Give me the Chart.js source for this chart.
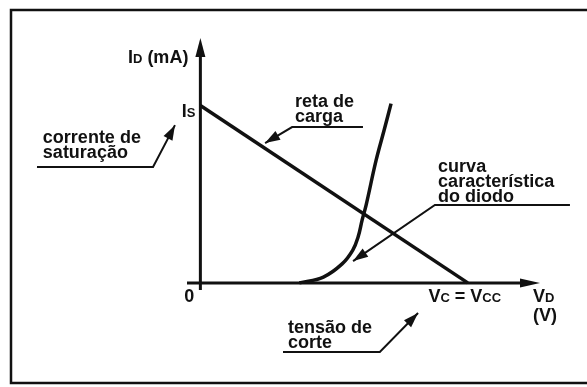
<!DOCTYPE html>
<html>
<head>
<meta charset="utf-8">
<script src="https://cdn.jsdelivr.net/npm/chart.js@4/dist/chart.umd.min.js"></script>
<style>
  html, body { margin: 0; padding: 0; background: #fff; overflow: hidden; }
  canvas { display: block; }
</style>
</head>
<body>
<canvas id="chart" width="587" height="387"></canvas>
<script>
// load line: from saturation current (V = 0) to cut-off voltage (I = 0)
const VCC = 10;
const IS = 10;
const loadLineV = [0, VCC];
const loadLineI = [IS, 0];

// diode characteristic curve
const diodeV = [3.7, 4.6, 5.3, 5.7, 5.9, 6.05, 6.2, 6.57, 6.87, 7.13];
const diodeI = [0, 0.33, 1.07, 1.85, 2.6, 3.55, 4.4, 6.9, 8.6, 10.1];

// axis ranges
const xRange = [-0.5, 12.7];
const yRange = [-0.4, 13.8];

// callouts, in data units: text lines, first baseline, leader line
const callouts = [
  { lines: ['corrente de', 'saturação'], x: -5.89, y: 7.88,
    path: [[-6.11, 6.53], [-1.77, 6.53], [-0.95, 8.89]] },
  { lines: ['reta de', 'carga'], x: 3.54, y: 9.91,
    path: [[6.08, 8.78], [3.43, 8.78], [2.42, 7.88]] },
  { lines: ['curva', 'característica', 'do diodo'], x: 8.89, y: 6.25,
    path: [[13.82, 4.39], [8.77, 4.39], [5.71, 1.23]] },
  { lines: ['tensão de', 'corte'], x: 3.28, y: -2.82,
    path: [[3.09, -3.89], [6.71, -3.89], [8.14, -1.70]] }
];

const FONT = '"Liberation Sans", Arial, sans-serif';
const INK = '#111';

function toPoints(xs, ys) {
  return xs.map((v, i) => ({ x: v, y: ys[i] }));
}

function arrowHead(ctx, x0, y0, x1, y1, len, half) {
  const a = Math.atan2(y1 - y0, x1 - x0);
  ctx.beginPath();
  ctx.moveTo(x1, y1);
  ctx.lineTo(x1 - len * Math.cos(a) + half * Math.sin(a), y1 - len * Math.sin(a) - half * Math.cos(a));
  ctx.lineTo(x1 - len * Math.cos(a) - half * Math.sin(a), y1 - len * Math.sin(a) + half * Math.cos(a));
  ctx.closePath();
  ctx.fill();
}

// text made of parts with different sizes (subscripts sit on the baseline)
function richText(ctx, parts, x, y, align) {
  let w = 0;
  parts.forEach(p => { ctx.font = 'bold ' + p[1] + 'px ' + FONT; w += ctx.measureText(p[0]).width; });
  let cx = align === 'right' ? x - w : align === 'center' ? x - w / 2 : x;
  ctx.textAlign = 'left';
  ctx.textBaseline = 'alphabetic';
  parts.forEach(p => {
    ctx.font = 'bold ' + p[1] + 'px ' + FONT;
    ctx.fillText(p[0], cx, y);
    cx += ctx.measureText(p[0]).width;
  });
}

// open frame: left, top and bottom edges only
const frame = {
  id: 'frame',
  beforeDraw(chart) {
    const { ctx, width } = chart;
    ctx.save();
    ctx.strokeStyle = INK;
    ctx.lineWidth = 2.5;
    ctx.beginPath();
    ctx.moveTo(width, 10);
    ctx.lineTo(11, 10);
    ctx.lineTo(11, 383);
    ctx.lineTo(width, 383);
    ctx.stroke();
    ctx.restore();
  }
};

const diagram = {
  id: 'diagram',
  afterDatasetsDraw(chart) {
    const { ctx, chartArea, scales } = chart;
    const px = v => scales.x.getPixelForValue(v);
    const py = v => scales.y.getPixelForValue(v);
    const x0 = px(0), y0 = py(0);

    ctx.save();
    ctx.strokeStyle = INK;
    ctx.fillStyle = INK;
    ctx.lineCap = 'butt';

    // axes with arrows
    ctx.lineWidth = 3;
    ctx.beginPath();
    ctx.moveTo(x0, chartArea.bottom);
    ctx.lineTo(x0, chartArea.top + 10);
    ctx.moveTo(chartArea.left, y0);
    ctx.lineTo(chartArea.right - 10, y0);
    ctx.stroke();
    arrowHead(ctx, x0, chartArea.bottom, x0, chartArea.top, 19, 5);
    arrowHead(ctx, chartArea.left, y0, chartArea.right, y0, 20, 4.5);

    // axis and tick labels
    richText(ctx, [['I', 18], ['D', 13], [' (mA)', 18]], x0 - 12, chartArea.top + 25, 'right');
    richText(ctx, [['I', 18], ['S', 13]], x0 - 5, py(IS) + 12, 'right');
    richText(ctx, [['0', 18]], x0 - 6, y0 + 19, 'right');
    richText(ctx, [['V', 18], ['C', 13], [' = ', 18], ['V', 18], ['CC', 13]], px(VCC) - 3, y0 + 19, 'center');
    richText(ctx, [['V', 18], ['D', 13]], chartArea.right - 7, y0 + 19, 'left');
    richText(ctx, [['(V)', 18]], chartArea.right - 7, y0 + 38, 'left');

    // callouts with leader lines
    ctx.lineWidth = 2;
    callouts.forEach(c => {
      c.lines.forEach((t, i) => richText(ctx, [[t, 18]], px(c.x), py(c.y) + i * 15, 'left'));
      const pts = c.path.map(p => [px(p[0]), py(p[1])]);
      ctx.beginPath();
      pts.forEach((p, i) => i ? ctx.lineTo(p[0], p[1]) : ctx.moveTo(p[0], p[1]));
      ctx.stroke();
      const a = pts[pts.length - 2], b = pts[pts.length - 1];
      arrowHead(ctx, a[0], a[1], b[0], b[1], 15, 5);
    });
    ctx.restore();
  }
};

new Chart(document.getElementById('chart'), {
  type: 'scatter',
  data: {
    datasets: [
      {
        label: 'reta de carga',
        data: toPoints(loadLineV, loadLineI),
        showLine: true,
        borderColor: INK,
        borderWidth: 3.5,
        pointRadius: 0,
        fill: false
      },
      {
        label: 'curva característica do diodo',
        data: toPoints(diodeV, diodeI),
        showLine: true,
        borderColor: INK,
        borderWidth: 3.5,
        pointRadius: 0,
        tension: 0.4,
        fill: false
      }
    ]
  },
  options: {
    responsive: false,
    animation: false,
    layout: { padding: { left: 187, right: 47, top: 38, bottom: 97 } },
    plugins: { legend: { display: false }, tooltip: { enabled: false } },
    scales: {
      x: { type: 'linear', display: false, min: xRange[0], max: xRange[1] },
      y: { type: 'linear', display: false, min: yRange[0], max: yRange[1] }
    }
  },
  plugins: [frame, diagram]
});
</script>
</body>
</html>
